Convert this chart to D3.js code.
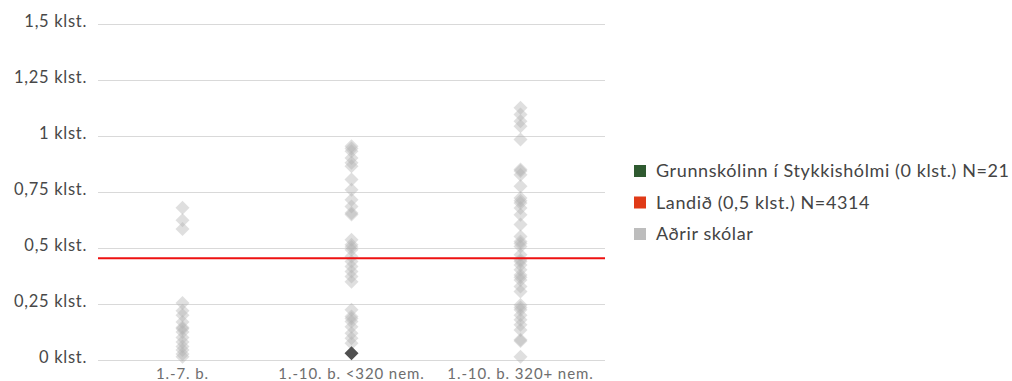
<!DOCTYPE html>
<html><head><meta charset="utf-8">
<script src="https://cdn.jsdelivr.net/npm/d3@7"></script>
<style>html,body{margin:0;padding:0;background:#fff;}svg{display:block;}</style>
</head><body>
<svg id="chart" width="1012" height="381"></svg>
<script>
const categories = ["1.-7. b.", "1.-10. b. <320 nem.", "1.-10. b. 320+ nem."];
const yTicks = [0, 0.25, 0.5, 0.75, 1, 1.25, 1.5];
const yTickLabels = ["0 klst.", "0,25 klst.", "0,5 klst.", "0,75 klst.", "1 klst.", "1,25 klst.", "1,5 klst."];
const otherSchools1to7 = [0.68, 0.625, 0.585, 0.255, 0.22, 0.2, 0.17, 0.145, 0.14, 0.125, 0.1, 0.08, 0.06, 0.045, 0.027, 0.015];
const otherSchoolsSmall = [0.955, 0.945, 0.933, 0.903, 0.881, 0.866, 0.806, 0.761, 0.716, 0.686, 0.657, 0.65, 0.537, 0.515, 0.505, 0.493, 0.463, 0.44, 0.418, 0.395, 0.373, 0.35, 0.224, 0.194, 0.185, 0.172, 0.149, 0.12, 0.097, 0.075];
const otherSchoolsLarge = [1.127, 1.097, 1.067, 1.045, 0.985, 0.851, 0.845, 0.828, 0.776, 0.724, 0.712, 0.702, 0.679, 0.649, 0.605, 0.552, 0.53, 0.52, 0.507, 0.47, 0.448, 0.44, 0.425, 0.403, 0.38, 0.37, 0.358, 0.328, 0.306, 0.246, 0.235, 0.224, 0.2, 0.18, 0.157, 0.134, 0.09, 0.085, 0.015];
const schoolCategory = "1.-10. b. <320 nem.";
const schoolValue = 0.03;
const nationalValue = 0.455;
const legendLabels = ["Grunnskólinn í Stykkishólmi (0 klst.) N=21", "Landið (0,5 klst.) N=4314", "Aðrir skólar"];
const legendColors = ["#2f5a30", "#e03a17", "#bdbdbd"];

const otherSeries = [otherSchools1to7, otherSchoolsSmall, otherSchoolsLarge];

const svg = d3.select("#chart");
const mLeft = 98, mRight = 605, mTop = 24.3, mBottom = 360;
const x = d3.scaleBand().domain(categories).range([mLeft, mRight]);
const y = d3.scaleLinear().domain([0, 1.5]).range([mBottom, mTop]);
const font = "Lato, 'Open Sans', sans-serif";

// grid
svg.append("g").selectAll("line").data(yTicks).join("line")
  .attr("x1", mLeft).attr("x2", mRight)
  .attr("y1", d => Math.round(y(d)) + 0.5).attr("y2", d => Math.round(y(d)) + 0.5)
  .attr("stroke", "#d9d9d9").attr("stroke-width", 1);

// y labels
svg.append("g").selectAll("text").data(yTicks).join("text")
  .attr("x", 87).attr("y", d => y(d) + 3)
  .attr("text-anchor", "end")
  .attr("font-family", font).attr("font-size", 16.5).attr("letter-spacing", 0.7)
  .attr("fill", "#484848")
  .text((d, i) => yTickLabels[i]);

// x labels
svg.append("g").selectAll("text").data(categories).join("text")
  .attr("x", d => x(d) + x.bandwidth() / 2).attr("y", 379)
  .attr("text-anchor", "middle")
  .attr("font-family", font).attr("font-size", 15).attr("letter-spacing", 0.9)
  .attr("fill", "#6e6e6e")
  .text(d => d);

const diamond = "M0,-7L7,0L0,7L-7,0Z";

// other schools
const pts = [];
otherSeries.forEach((arr, i) => arr.forEach(v => pts.push({c: categories[i], v})));
svg.append("g").selectAll("path").data(pts).join("path")
  .attr("d", diamond)
  .attr("transform", d => `translate(${x(d.c) + x.bandwidth() / 2},${y(d.v)})`)
  .attr("fill", "#b0b0b0").attr("fill-opacity", 0.4);

// national line
svg.append("line")
  .attr("x1", mLeft).attr("x2", mRight)
  .attr("y1", y(nationalValue)).attr("y2", y(nationalValue))
  .attr("stroke", "#ee1111").attr("stroke-width", 2);

// school
svg.append("path").attr("d", diamond)
  .attr("transform", `translate(${x(schoolCategory) + x.bandwidth() / 2},${y(schoolValue)})`)
  .attr("fill", "#505050");

// legend
const lg = svg.append("g").selectAll("g").data(legendLabels).join("g")
  .attr("transform", (d, i) => `translate(634,${171 + i * 31.5})`);
lg.append("rect").attr("x", 0).attr("y", -6).attr("width", 12).attr("height", 12)
  .attr("fill", (d, i) => legendColors[i]);
lg.append("text").attr("x", 22).attr("y", 6)
  .attr("font-family", font).attr("font-size", 18).attr("letter-spacing", 0.6)
  .attr("fill", "#444").text(d => d);
</script>
</body></html>
